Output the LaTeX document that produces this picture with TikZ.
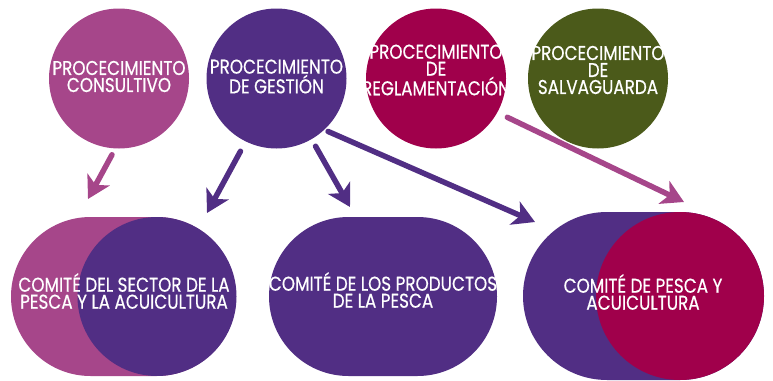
\documentclass[tikz,border=0pt]{standalone}
\usepackage{fontspec}
\setmainfont[FakeStretch=0.84, FakeBold=0.5]{Poppins}
\usepackage{tikz}
\usetikzlibrary{calc}
\usetikzlibrary{positioning}
\usetikzlibrary{shapes.misc}
\usetikzlibrary{arrows.meta}
\definecolor{consul}{HTML}{A6468A}
\definecolor{gestion}{HTML}{512E84}
\definecolor{regla}{HTML}{A0004B}
\definecolor{salva}{HTML}{4B5A1A}

\begin{document}
\begin{tikzpicture}[x=1pt, y=-1pt,
        proc/.style={shape=circle, minimum size=140pt, inner sep=0pt},
        pill/.style={shape=rounded rectangle, inner sep=0pt},
        lbl/.style={text=white, align=center, inner sep=0pt, font=\fontsize{20}{17}\selectfont},
        flecha/.style={line width=5.5pt, line cap=round, -{Stealth[length=22pt, width=25pt, inset=6pt]}}]
        \useasboundingbox (0,0) rectangle (773,380);
        % procedimientos
        \node (cons) at (119,78.5) [proc, fill=consul] {};
        \node (gest) at (276.5,78.5) [proc, fill=gestion] {};
        \node (regl) at (436,78.5) [proc, fill=regla] {};
        \node (salv) at (598,78.5) [proc, fill=salva] {};
        \node (consT) at (119,76.5) [lbl] {PROCECIMIENTO\\CONSULTIVO};
        \node (gestT) at (276.5,76.5) [lbl] {PROCECIMIENTO\\DE GESTIÓN};
        \node (reglT) at (436,70) [lbl] {PROCECIMIENTO\\DE\\REGLAMENTACIÓN};
        \node (salvT) at (598,70) [lbl] {PROCECIMIENTO\\DE\\SALVAGUARDA};
        % comites
        \node (sectorbg) at (123.5,296.5) [pill, fill=consul, minimum width=225pt, minimum height=159pt] {};
        \node (sector) at (157,296.5) [proc, fill=gestion, minimum size=159pt] {};
        \node (sectorT) at (124,291) [lbl] {COMITÉ DEL SECTOR DE LA\\PESCA Y LA ACUICULTURA};
        \node (prod) at (383,296.5) [pill, fill=gestion, minimum width=228pt, minimum height=159pt] {};
        \node (prodT) at (383,290) [lbl] {COMITÉ DE LOS PRODUCTOS\\DE LA PESCA};
        \node (pescabg) at (643.5,296) [pill, fill=gestion, minimum width=241pt, minimum height=168pt] {};
        \node (pesca) at (680,296) [proc, fill=regla, minimum size=168pt] {};
        \node (pescaT) at (643,292) [lbl] {COMITÉ DE PESCA Y\\ACUICULTURA};
        % flechas
        \coordinate (p1) at (88,199);
        \coordinate (p2) at (207,213);
        \coordinate (p3) at (350,207);
        \coordinate (p4) at (535,222);
        \coordinate (p5) at (684,202);
        \draw (cons.-93) [flecha, consul, shorten <=7pt] -- (p1);
        \draw (gest.-116) [flecha, gestion, shorten <=11pt] -- (p2);
        \draw (gest.-60) [flecha, gestion, shorten <=8pt] -- (p3);
        \draw (gest.-47) [flecha, gestion, shorten <=4pt] -- (p4);
        \draw (regl.-29) [flecha, consul, shorten <=11pt] -- (p5);
\end{tikzpicture}
\end{document}
